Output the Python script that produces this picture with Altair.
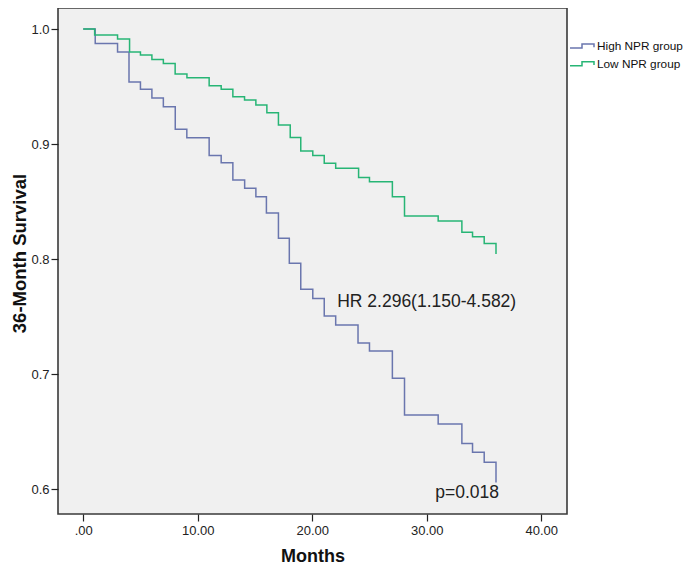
import altair as alt
import pandas as pd

# ---- data ----
high_t = [0, 1.05, 3.0, 4.0, 5.0, 6.0, 7.0, 8.04, 9.05, 11.0, 12.05, 13.07, 14.1, 15.08,
          16.0, 17.05, 18.0, 19.0, 20.05, 21.05, 22.05, 24.0, 25.0, 27.0, 28.06, 31.0,
          33.07, 34.0, 35.02, 36.05]
high_s = [1.0, 0.9875, 0.980, 0.954, 0.9476, 0.940, 0.9325, 0.9128, 0.9055, 0.890, 0.8838,
          0.8687, 0.8615, 0.8542, 0.840, 0.818, 0.7963, 0.7737, 0.7658, 0.7504, 0.7426,
          0.727, 0.720, 0.6963, 0.6643, 0.6565, 0.6397, 0.6319, 0.6232, 0.6058]

low_t = [0, 1.0, 3.0, 4.05, 5.0, 6.0, 7.0, 8.03, 9.06, 11.0, 12.05, 13.07, 14.09, 15.08,
         16.04, 17.05, 18.08, 19.0, 20.05, 21.05, 22.05, 24.05, 25.0, 27.0, 28.06, 31.0,
         33.07, 34.0, 35.02, 36.05]
low_s = [1.0, 0.9948, 0.9913, 0.980, 0.9774, 0.9736, 0.970, 0.961, 0.9577, 0.9507, 0.9476,
         0.9412, 0.9383, 0.934, 0.9272, 0.9165, 0.9058, 0.894, 0.890, 0.8832, 0.8789,
         0.871, 0.8672, 0.8542, 0.8374, 0.833, 0.8232, 0.8194, 0.8136, 0.8043]

groups = ["High NPR group", "Low NPR group"]
colors = ["#6A76AE", "#27B575"]

note_text = ["HR 2.296(1.150-4.582)", "p=0.018"]
note_x = [22.18, 30.74]
note_y = [0.7629, 0.5968]

x_ticks = [0, 10, 20, 30, 40]
y_ticks = [0.6, 0.7, 0.8, 0.9, 1.0]

rows = []
for t, s in zip(high_t, high_s):
    rows.append({"Months": t, "Survival": s, "Group": groups[0]})
for t, s in zip(low_t, low_s):
    rows.append({"Months": t, "Survival": s, "Group": groups[1]})
df = pd.DataFrame(rows)
notes = pd.DataFrame({"x": note_x, "y": note_y, "label": note_text})

FONT = "Liberation Sans"
xscale = alt.Scale(domain=[-2.2, 42.25], nice=False, zero=False)
yscale = alt.Scale(domain=[0.5783, 1.0183], nice=False, zero=False)

lines = alt.Chart(df).mark_line(interpolate="step-after", strokeWidth=1.5, clip=True).encode(
    x=alt.X("Months:Q", scale=xscale,
            axis=alt.Axis(values=x_ticks, title="Months", grid=False, domain=False,
                          tickSize=7, tickColor="#222", tickWidth=1.2,
                          labelExpr="datum.value == 0 ? '.00' : format(datum.value, '.2f')",
                          labelFont=FONT, labelFontSize=13, labelColor="#222", labelPadding=3,
                          titleFont=FONT, titleFontSize=18, titleFontWeight="bold",
                          titleColor="#111", titleY=42, titleBaseline="middle")),
    y=alt.Y("Survival:Q", scale=yscale,
            axis=alt.Axis(values=y_ticks, format=".1f", title="36-Month Survival", grid=False,
                          domain=False, tickSize=7, tickColor="#222", tickWidth=1.2,
                          labelFont=FONT, labelFontSize=13, labelColor="#222", labelPadding=2,
                          titleFont=FONT, titleFontSize=18.5, titleFontWeight="bold",
                          titleColor="#111", titleX=-39, titleY=245, titleBaseline="middle")),
    color=alt.Color("Group:N", scale=alt.Scale(domain=groups, range=colors),
                    legend=alt.Legend(title=None, orient="none", legendX=511, legendY=31,
                                      symbolType="M-1,0.33H1V-0.33H3V0.2",
                                      symbolSize=144, symbolStrokeWidth=1.5,
                                      symbolFillColor="transparent",
                                      labelFont=FONT, labelFontSize=11.8, labelColor="#111",
                                      labelOffset=14, rowPadding=3.7, padding=0)),
    order="Months:Q",
)

text = alt.Chart(notes).mark_text(align="left", baseline="middle", font=FONT,
                                  fontSize=17.5, color="#222").encode(
    x=alt.X("x:Q", scale=xscale),
    y=alt.Y("y:Q", scale=yscale),
    text="label:N",
)

chart = (lines + text).properties(
    width=509, height=506,
    background="white",
    autosize=alt.AutoSizeParams(type="none"),
    padding={"left": 50, "top": 0, "right": 117, "bottom": 52},
).configure_view(
    fill="#F0F0F0", stroke="#3a3a3a", strokeWidth=1.6
)

chart.save("out.html", embed_options={"renderer": "svg", "actions": False})
